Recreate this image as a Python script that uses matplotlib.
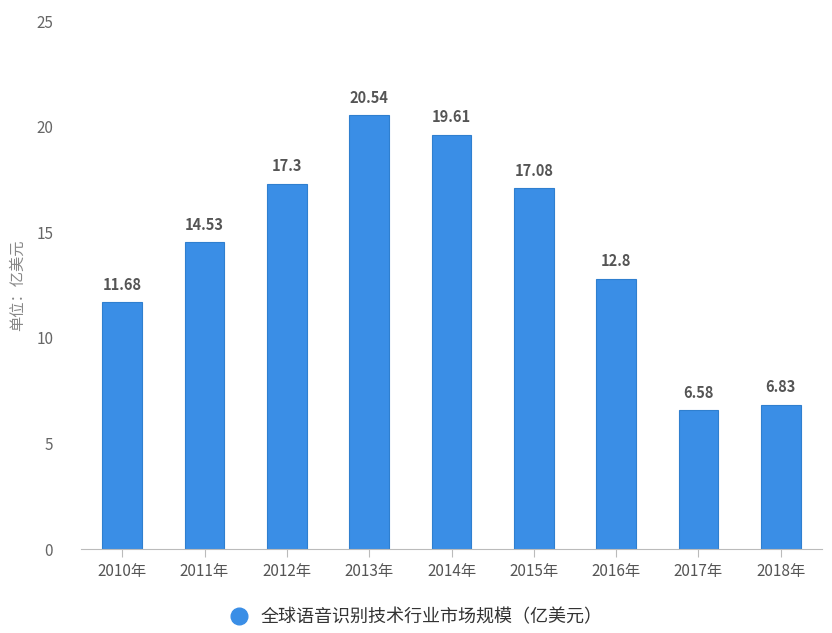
import matplotlib
matplotlib.use("Agg")
import matplotlib.pyplot as plt
from matplotlib.lines import Line2D

plt.rcParams['font.family'] = ['Noto Sans CJK SC', 'DejaVu Sans']

categories = ["2010年", "2011年", "2012年", "2013年", "2014年", "2015年", "2016年", "2017年", "2018年"]
values = [11.68, 14.53, 17.3, 20.54, 19.61, 17.08, 12.8, 6.58, 6.83]
value_labels = ["11.68", "14.53", "17.3", "20.54", "19.61", "17.08", "12.8", "6.58", "6.83"]
yticks = [0, 5, 10, 15, 20, 25]
series_name = "全球语音识别技术行业市场规模（亿美元）"
y_label = "单位：亿美元"

fig = plt.figure(figsize=(8.32, 6.33), dpi=100)
ax = fig.add_axes([81/832, 1-549/633, (822-81)/832, (549-21)/633])

x = list(range(len(categories)))
ax.bar(x, values, width=0.48, color="#3a8ee6", edgecolor="#2f7fcf", linewidth=0.8, zorder=2)
for xi, v, lab in zip(x, values, value_labels):
    ax.text(xi, v + 0.45, lab, ha="center", va="bottom", fontsize=10.5,
            fontweight="bold", color="#555555")

ax.set_xlim(-0.5, len(categories) - 0.5)
ax.set_ylim(0, 25)
ax.set_yticks(yticks)
ax.set_yticklabels([str(t) for t in yticks], fontsize=11, color="#666666")
ax.set_xticks(x)
ax.set_xticklabels(categories, fontsize=11, color="#555555")
for s in ["top", "right", "left"]:
    ax.spines[s].set_visible(False)
ax.spines["bottom"].set_color("#bbbbbb")
ax.tick_params(axis="y", length=0, pad=20)
ax.tick_params(axis="x", length=6, color="#bbbbbb", pad=4)

fig.text(17/832, 1-285/633, y_label, rotation=90, ha="center", va="center",
         fontsize=11, color="#888888")

handle = Line2D([], [], marker="o", linestyle="none", markersize=12,
                markerfacecolor="#3a8ee6", markeredgecolor="#3a8ee6")
fig.legend([handle], [series_name], loc="center", bbox_to_anchor=(412/832, 1-617/633),
           frameon=False, fontsize=13, handletextpad=0.2,
           labelcolor="#333333")

fig.savefig("out.png", dpi=100)
